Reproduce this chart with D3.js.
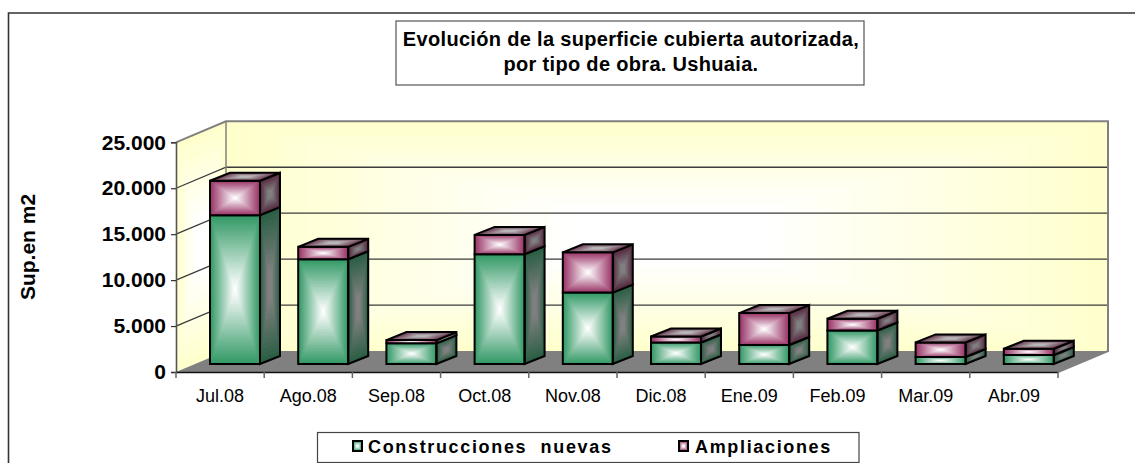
<!DOCTYPE html>
<html><head><meta charset="utf-8">
<script src="https://cdnjs.cloudflare.com/ajax/libs/d3/7.8.5/d3.min.js"></script>
<style>html,body{margin:0;padding:0;background:#fff}svg{display:block}text{font-family:"Liberation Sans",Arial,sans-serif;fill:#000}</style>
</head><body><div id="c"></div>
<script>
const categories=["Jul.08","Ago.08","Sep.08","Oct.08","Nov.08","Dic.08","Ene.09","Feb.09","Mar.09","Abr.09"];
const nuevas=[16200,11400,2250,11950,7770,2340,2070,3650,760,980];
const ampliaciones=[3750,1350,350,2100,4380,650,3470,1270,1590,680];
const yTicks=[0,5000,10000,15000,20000,25000];
const titleLines=["Evolución de la superficie cubierta autorizada,","por tipo de obra. Ushuaia."];
const yLabel="Sup.en m2";
const seriesNames=["Construcciones  nuevas","Ampliaciones"];

const W=1135,H=463,wallDX=50,wallDY=-21,barW=50,depX=20,depY=-8,barOff=34,barLift=8;
const svg=d3.select("#c").append("svg").attr("width",W).attr("height",H);
const x=d3.scaleBand().domain(categories).range([176,1058]);
const y=d3.scaleLinear().domain([0,25000]).range([372,142.3]);
const loc=d3.formatLocale({decimal:",",thousands:".",grouping:[3],currency:["",""]});
const fmt=loc.format(",d");

function concentric(g,pts,edge,centre,steps,gain=1.2){
  const cx=d3.mean(pts,p=>p[0]),cy=d3.mean(pts,p=>p[1]);
  const col=d3.interpolateRgb(edge,centre);
  g.selectAll(null).data(d3.range(steps)).join("polygon")
    .attr("points",i=>{const k=1-i/steps;return pts.map(p=>[cx+(p[0]-cx)*k,cy+(p[1]-cy)*k].join(",")).join(" ")})
    .attr("fill",i=>col(Math.min(1,i/(steps-1)*gain)));
}
function outline(g,pts){g.append("polygon").attr("points",pts.map(p=>p.join(",")).join(" ")).attr("fill","none").attr("stroke","#000").attr("stroke-width",2).attr("stroke-linejoin","miter");}

// frame
svg.append("path").attr("d",`M8.5,${H} V13 H${W}`).attr("fill","none").attr("stroke","#333").attr("stroke-width",1.6);

// walls
const x0=x.range()[0],x1=x.range()[1],y0=y(0),yT=y(25000);
const wall=svg.append("g");
concentric(wall.append("g"),[[x0+wallDX,yT+wallDY],[x1+wallDX,yT+wallDY],[x1+wallDX,y0+wallDY],[x0+wallDX,y0+wallDY]],"#FFFFCC","#FFFFFF",60,1.25);
concentric(wall.append("g"),[[x0,yT],[x0+wallDX,yT+wallDY],[x0+wallDX,y0+wallDY],[x0,y0]],"#FFFFCC","#FFFFFF",20,1.25);
svg.append("polygon").attr("points",[[x0,y0],[x1,y0],[x1+wallDX,y0+wallDY],[x0+wallDX,y0+wallDY]].map(p=>p.join(",")).join(" ")).attr("fill","#808080");
// gridlines
svg.append("g").selectAll("path").data(yTicks.filter(d=>d>0&&d<25000)).join("path")
  .attr("d",d=>`M${x0},${y(d)} L${x0+wallDX},${y(d)+wallDY} H${x1+wallDX}`)
  .attr("fill","none").attr("stroke","#3c3c3c").attr("stroke-width",1.3);
// wall borders
svg.append("path").attr("d",`M${x0},${yT} L${x0+wallDX},${yT+wallDY} H${x1+wallDX} V${y0+wallDY} L${x1},${y0}`)
  .attr("fill","none").attr("stroke","#808080").attr("stroke-width",2);
svg.append("path").attr("d",`M${x0+wallDX},${yT+wallDY} V${y0+wallDY}`).attr("stroke","#808080").attr("stroke-width",1.5);

// bars
const styles=[
 {front:"#339966",side:"#2b5f45",top:"#2b5f45",mid:"#808080"},
 {front:"#993366",side:"#55283f",top:"#6b3a52",mid:"#808080"}];
const bars=svg.append("g");
categories.forEach((c,i)=>{
  const L=x(c)+barOff,R=L+barW,lift=barLift;
  const segs=[[0,nuevas[i],0],[nuevas[i],nuevas[i]+ampliaciones[i],1]];
  const g=bars.append("g");
  segs.forEach(([a,b,s])=>{
    const st=styles[s],yb=y(a)-lift,yt=y(b)-lift;
    const F=[[L,yt],[R,yt],[R,yb],[L,yb]];
    const S=[[R,yt],[R+depX,yt+depY],[R+depX,yb+depY],[R,yb]];
    concentric(g.append("g"),F,st.front,"#FFFFFF",36,1.0);
    concentric(g.append("g"),S,st.side,st.mid,16);
    outline(g,F);outline(g,S);
    if(s===1){
      const T=[[L,yt],[L+depX,yt+depY],[R+depX,yt+depY],[R,yt]];
      concentric(g.append("g"),T,st.top,"#b8b8b8",12);
      outline(g,T);
    }
  });
});

// axes
const yAxis=d3.axisLeft(y).tickValues(yTicks).tickFormat(fmt).tickSize(5).tickPadding(5);
const ya=svg.append("g").attr("transform",`translate(${x0},0)`).call(yAxis);
ya.select(".domain").attr("stroke","#555").attr("stroke-width",1.6);
ya.selectAll(".tick line").attr("stroke","#333").attr("stroke-width",1.2);
ya.selectAll("text").attr("font-size",21).attr("font-weight","bold").style("font-family",'"Liberation Sans",Arial,sans-serif');
const xAxis=d3.axisBottom(x).tickSize(0).tickPadding(19);
const xa=svg.append("g").attr("transform",`translate(0,${y0})`).call(xAxis);
xa.select(".domain").attr("stroke","#111").attr("stroke-width",1.3);
xa.selectAll("text").attr("font-size",18).style("font-family",'"Liberation Sans",Arial,sans-serif');
xa.selectAll(".tick text").attr("dy","0.6em");
svg.append("g").selectAll("line").data(categories.concat(["end"])).join("line")
  .attr("x1",(d,i)=>x0+i*x.step()).attr("x2",(d,i)=>x0+i*x.step()).attr("y1",y0).attr("y2",y0+6)
  .attr("stroke","#666").attr("stroke-width",1.5);

// y title
svg.append("text").attr("transform","translate(35,247) rotate(-90)").attr("text-anchor","middle")
  .attr("font-size",21).attr("font-weight","bold").text(yLabel);

// title
svg.append("rect").attr("x",396).attr("y",21).attr("width",468).attr("height",64).attr("fill","#fff").attr("stroke","#555").attr("stroke-width",1.2);
svg.append("g").selectAll("text").data(titleLines).join("text").attr("x",631).attr("y",(d,i)=>46+i*25)
  .attr("text-anchor","middle").attr("font-size",20).attr("font-weight","bold").attr("letter-spacing",0.32).text(d=>d);

// legend
svg.append("rect").attr("x",317.5).attr("y",432.5).attr("width",541.5).attr("height",30).attr("fill","#fff").attr("stroke","#444").attr("stroke-width",1.2);
const legX=[353,679],legT=[368,695];
seriesNames.forEach((n,i)=>{
  const g=svg.append("g");
  const k=legX[i],p=[[k,441],[k+9,441],[k+9,451],[k,451]];
  concentric(g.append("g"),p,styles[i].front,"#fff",4,1.1);
  outline(g,p);
  g.append("text").attr("x",legT[i]).attr("y",453).attr("font-size",18).attr("font-weight","bold").attr("letter-spacing",1.66).style("white-space","pre").text(n);
});
</script></body></html>
